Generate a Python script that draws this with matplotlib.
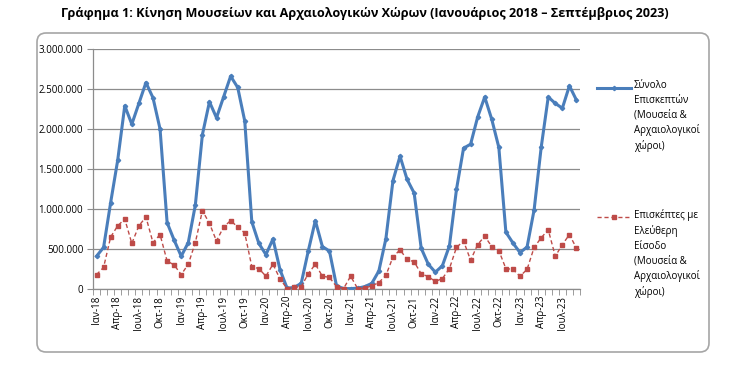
import matplotlib
matplotlib.use("Agg")
import matplotlib.pyplot as plt
from matplotlib.patches import FancyBboxPatch
from matplotlib.lines import Line2D
from matplotlib.ticker import FuncFormatter, MultipleLocator, FixedLocator

plt.rcParams['font.family'] = ['Open Sans', 'DejaVu Sans']

months_gr = ['Ιαν', 'Φεβ', 'Μαρ', 'Απρ', 'Μαϊ', 'Ιουν', 'Ιουλ', 'Αυγ', 'Σεπ', 'Οκτ', 'Νοε', 'Δεκ']
years = ['18', '19', '20', '21', '22', '23']
categories = [f"{m}-{y}" for y in years for m in months_gr][:69]

total_visitors = [
    410000, 520000, 1080000, 1610000, 2290000, 2060000, 2320000, 2580000, 2390000, 2000000, 830000, 610000,
    410000, 580000, 1050000, 1930000, 2340000, 2140000, 2400000, 2660000, 2520000, 2100000, 840000, 570000,
    430000, 625000, 240000, 10000, 20000, 70000, 475000, 855000, 530000, 475000, 40000, 5000,
    5000, 10000, 30000, 70000, 225000, 630000, 1355000, 1660000, 1370000, 1200000, 510000, 310000,
    210000, 290000, 540000, 1245000, 1760000, 1810000, 2150000, 2400000, 2120000, 1770000, 710000, 575000,
    455000, 525000, 990000, 1770000, 2400000, 2320000, 2260000, 2540000, 2360000,
]
free_visitors = [
    180000, 270000, 650000, 790000, 875000, 570000, 790000, 900000, 580000, 680000, 350000, 300000,
    180000, 310000, 580000, 980000, 820000, 600000, 775000, 855000, 775000, 700000, 280000, 255000,
    160000, 310000, 125000, 5000, 20000, 30000, 190000, 310000, 160000, 145000, 30000, 5000,
    160000, 5000, 10000, 40000, 80000, 170000, 400000, 490000, 370000, 340000, 190000, 155000,
    95000, 130000, 255000, 520000, 600000, 360000, 555000, 660000, 530000, 480000, 255000, 245000,
    160000, 245000, 520000, 640000, 740000, 410000, 555000, 680000, 510000,
]

title = "Γράφημα 1: Κίνηση Μουσείων και Αρχαιολογικών Χώρων (Ιανουάριος 2018 – Σεπτέμβριος 2023)"
label_total = "Σύνολο\nΕπισκεπτών\n(Μουσεία &\nΑρχαιολογικοί\nχώροι)"
label_free = "Επισκέπτες με\nΕλεύθερη\nΕίσοδο\n(Μουσεία &\nΑρχαιολογικοί\nχώροι)"

W, H = 731, 372
fig = plt.figure(figsize=(W / 100, H / 100), dpi=100)

# Border
border = FancyBboxPatch((37, 20), 672, 319, boxstyle="round,pad=0,rounding_size=9",
                        transform=None, facecolor='none', edgecolor='#a6a6a6', linewidth=1.2)
fig.patches.append(border)

fig.text(365 / W, 1 - 14 / H, title, ha='center', va='center', fontsize=9.1, fontweight='bold')

ax = fig.add_axes([93 / W, 1 - 289 / H, (580 - 93) / W, (289 - 49) / H])
x = list(range(len(categories)))
blue = '#4a7ebb'
red = '#be4b48'
ax.plot(x, total_visitors, color=blue, linewidth=2.2, marker='D', markersize=2.2,
        markerfacecolor=blue, markeredgecolor=blue, zorder=3)
ax.plot(x, free_visitors, color=red, linewidth=1.0, linestyle=(0, (3, 2)), marker='s',
        markersize=2.8, markerfacecolor=red, markeredgecolor=red, zorder=3)

ax.set_xlim(-0.5, len(categories) - 0.5)
ax.set_ylim(0, 3000000)
ax.yaxis.set_major_locator(MultipleLocator(500000))
ax.yaxis.set_major_formatter(FuncFormatter(lambda v, p: f"{v:,.0f}".replace(',', '.')))
ax.grid(axis='y', color='#8c8c8c', linewidth=0.9)
ax.set_axisbelow(True)

label_pos = list(range(0, len(categories), 3))
ax.xaxis.set_major_locator(FixedLocator(label_pos))
ax.set_xticklabels([categories[i] for i in label_pos], rotation=90, fontsize=7)
ax.xaxis.set_minor_locator(FixedLocator([i - 0.5 for i in range(len(categories) + 1)]))
ax.tick_params(axis='x', which='major', length=0, pad=5)
ax.tick_params(axis='x', which='minor', length=4, direction='out', color='#8c8c8c')
ax.tick_params(axis='y', length=4, direction='out', color='#8c8c8c', labelsize=7, pad=3)

for s in ['top', 'right']:
    ax.spines[s].set_visible(False)
for s in ['left', 'bottom']:
    ax.spines[s].set_color('#8c8c8c')
    ax.spines[s].set_linewidth(0.9)

# Legend
def fy(py):
    return 1 - py / H

fig.add_artist(Line2D([597 / W, 614 / W, 631 / W], [fy(88)] * 3, color=blue, linewidth=2.2,
                      marker='D', markersize=2.2, markevery=[1], transform=fig.transFigure))
fig.add_artist(Line2D([597 / W, 614 / W, 631 / W], [fy(216.5)] * 3, color=red, linewidth=1.0,
                      linestyle=(0, (3, 2)), marker='s', markersize=2.8, markevery=[1],
                      transform=fig.transFigure))
fig.text(634 / W, fy(80), label_total, ha='left', va='top', fontsize=7, linespacing=1.45)
fig.text(634 / W, fy(209), label_free, ha='left', va='top', fontsize=7, linespacing=1.45)

fig.savefig('out.png', dpi=100)
